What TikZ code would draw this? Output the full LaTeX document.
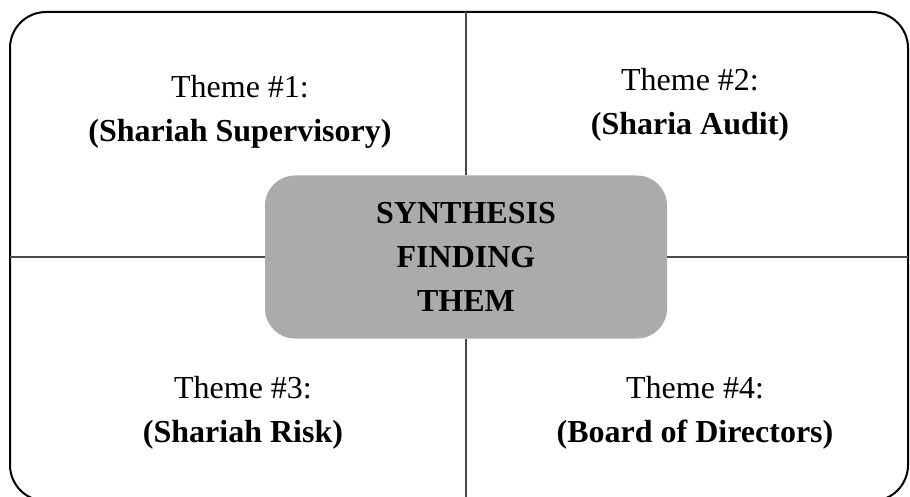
\documentclass[tikz,border=0pt]{standalone}
\usepackage{fontspec}
\setmainfont{Liberation Serif}
\usetikzlibrary{positioning}
\definecolor{boxgray}{HTML}{ABABAB}
\definecolor{linegray}{HTML}{4A4A4A}
\tikzset{theme/.style={align=center, inner sep=0pt, font=\fontsize{32}{44}\selectfont},
  divider/.style={linegray, line width=1.6pt}}

\begin{document}
\begin{tikzpicture}[x=1pt,y=-1pt]
\useasboundingbox (0,0) rectangle (910,497);
\draw [line width=2pt, rounded corners=36pt] (10,12) rectangle (908,501); % frame

\node [fill=boxgray, rounded corners=30pt, minimum width=402pt, minimum height=163pt, theme,
  font=\fontsize{32}{44}\selectfont\bfseries] (synth) at (466,257) {SYNTHESIS\\FINDING\\THEM};

\coordinate (top) at (466,12);
\coordinate (bottom) at (466,497);
\coordinate (left) at (10,257);
\coordinate (right) at (908,257);
\draw [divider] (top) -- (synth.north);
\draw [divider] (synth.south) -- (bottom);
\draw [divider] (left) -- (synth.west);
\draw [divider] (synth.east) -- (right);

\node [theme] (th1) at (240,112) {Theme \#1:\\\textbf{(Shariah Supervisory)}};
\node [theme] (th2) at (690,105) {Theme \#2:\\\textbf{(Sharia Audit)}};
\node [theme] (th3) at (243,413) {Theme \#3:\\\textbf{(Shariah Risk)}};
\node [theme] (th4) at (695,413) {Theme \#4:\\\textbf{(Board of Directors)}};
\end{tikzpicture}
\end{document}
